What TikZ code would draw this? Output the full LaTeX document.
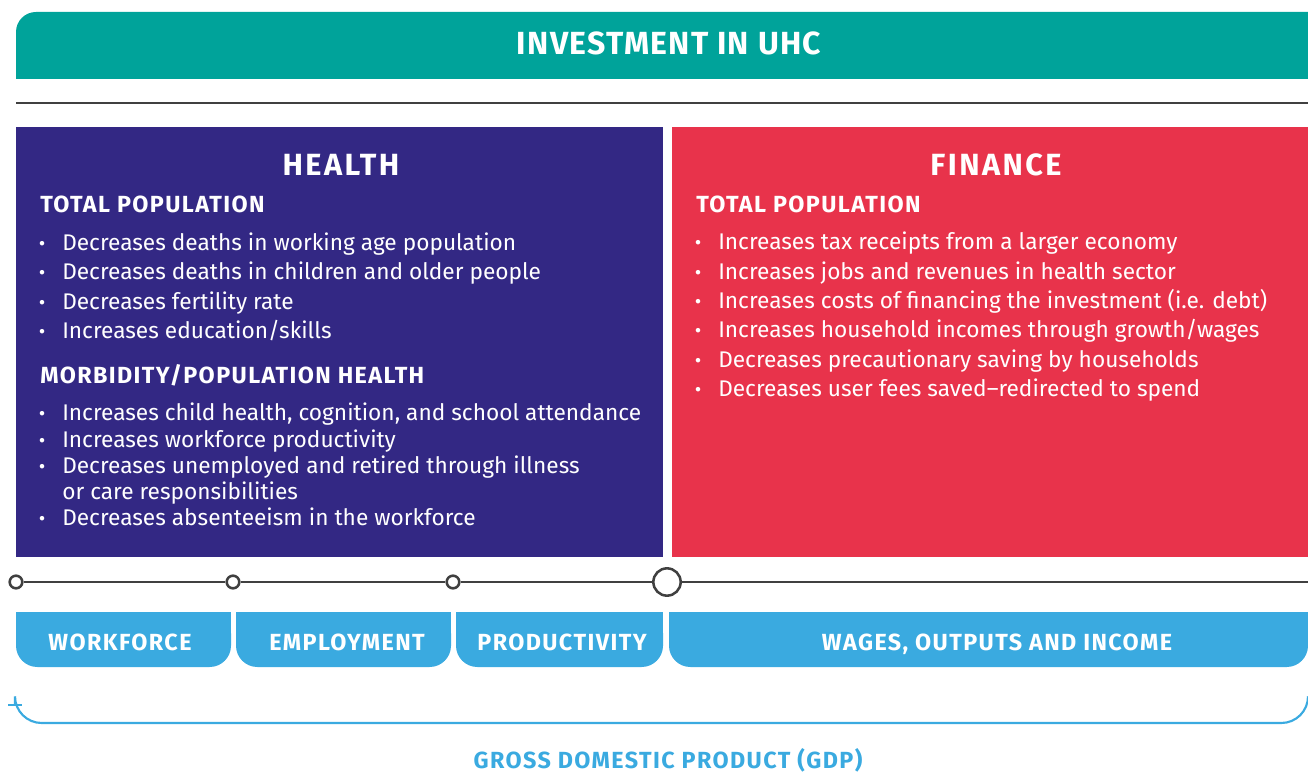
\documentclass[tikz,border=0pt]{standalone}
\usepackage{fontspec}
\setmainfont{Fira Sans}
\usetikzlibrary{positioning}

\definecolor{uhcteal}{HTML}{00A39A}
\definecolor{healthpurple}{HTML}{332884}
\definecolor{financered}{HTML}{E8334B}
\definecolor{gdpblue}{HTML}{3AAAE0}
\definecolor{linegray}{HTML}{404040}

\begin{document}
\begin{tikzpicture}[x=0.75pt,y=-0.75pt,
			title node/.style={font=\bfseries\fontsize{24}{28}\selectfont\addfontfeature{LetterSpace=4},text=white,anchor=base},
			head node/.style={font=\bfseries\fontsize{23}{27}\selectfont\addfontfeature{LetterSpace=8},text=white,anchor=base},
			sub node/.style={font=\bfseries\fontsize{17.5}{21}\selectfont\addfontfeature{LetterSpace=6},text=white,anchor=base west,inner sep=0pt},
			item node/.style={font=\fontsize{17}{20}\selectfont,text=white,anchor=base west,inner sep=0pt},
			bullet node/.style={font=\fontsize{15}{18}\selectfont,text=white,anchor=base,inner sep=0pt},
			stepbox node/.style={font=\bfseries\fontsize{17.5}{21}\selectfont\addfontfeature{LetterSpace=6},text=white,anchor=base},
			small dot/.style={circle,draw=linegray,fill=white,line width=1.9pt,minimum size=9.5pt,inner sep=0pt},
			big dot/.style={circle,draw=linegray,fill=white,line width=1.9pt,minimum size=20.5pt,inner sep=0pt}
			]

			\useasboundingbox (0,0) rectangle (1308,773);
			\clip (0,0) rectangle (1308,773);

			% banner
			\fill[uhcteal,rounded corners=15] (16,12) rectangle (1340,79);
			\fill[uhcteal] (16,40) rectangle (1340,79);
			\fill[uhcteal] (60,12) rectangle (1340,79);
			\node[title node] (uhc) at (669,55) {INVESTMENT IN UHC};

			\draw[linegray,line width=2.2pt] (16,103) -- (1310,103);

			% panels
			\fill[healthpurple] (16,127) rectangle (663,557);
			\fill[financered] (672,127) rectangle (1310,557);
			\node[head node] (health) at (341,176) {HEALTH};
			\node[head node] (finance) at (996,176) {FINANCE};

			\node[sub node] (htot) at (40,213) {TOTAL POPULATION};
			\foreach \t [count=\i] in {
				{Decreases deaths in working age population},
				{Decreases deaths in children and older people},
				{Decreases fertility rate},
				{Increases education/skills}}
			{
				\node[bullet node] (hb\i) at (42,{250.5+29.4*(\i-1)}) {•};
				\node[item node] (ht\i) at (62,{250.5+29.4*(\i-1)}) {\t};
			}

			\node[sub node] (hmor) at (40,383) {MORBIDITY/POPULATION HEALTH};
			\foreach \t/\y [count=\i] in {
				{Increases child health, cognition, and school attendance}/420,
				{Increases workforce productivity}/447,
				{Decreases unemployed and retired through illness}/473.5,
				{Decreases absenteeism in the workforce}/525}
			{
				\node[bullet node] (mb\i) at (42,\y) {•};
				\node[item node] (mt\i) at (62,\y) {\t};
			}
			\node[item node] (mt5) at (62,499) {or care responsibilities};

			\node[sub node] (ftot) at (696,213) {TOTAL POPULATION};
			\foreach \t [count=\i] in {
				{Increases tax receipts from a larger economy},
				{Increases jobs and revenues in health sector},
				{Increases costs of financing the investment (i.e. debt)},
				{Increases household incomes through growth/wages},
				{Decreases precautionary saving by households},
				{Decreases user fees saved–redirected to spend}}
			{
				\node[bullet node] (fb\i) at (698,{250+29.3*(\i-1)}) {•};
				\node[item node] (ft\i) at (718,{250+29.3*(\i-1)}) {\t};
			}

			% timeline
			\node[small dot] (d1) at (16,582) {};
			\node[small dot] (d2) at (233,582) {};
			\node[small dot] (d3) at (453,582) {};
			\node[big dot] (d4) at (667,582) {};
			\coordinate (dend) at (1312,582);
			\draw[linegray,line width=1.9pt] (d1) -- (d2) (d2) -- (d3) (d3) -- (d4) (d4) -- (dend);

			% steps
			\foreach \a/\b in {16/231,236/451,456/663,669/1308}
			{
				\fill[gdpblue,rounded corners=16] (\a,612) rectangle (\b,667);
				\fill[gdpblue] (\a,612) rectangle (\b,640);
			}
			\node[stepbox node] (work) at (120,650) {WORKFORCE};
			\node[stepbox node] (empl) at (347,650) {EMPLOYMENT};
			\node[stepbox node] (prod) at (562,650) {PRODUCTIVITY};
			\node[stepbox node] (wage) at (997,650) {WAGES, OUTPUTS AND INCOME};

			% gdp bracket
			\coordinate (gl) at (15,705);
			\coordinate (gr) at (1308,700);
			\draw[gdpblue,line width=1.6pt] (8,705) -- (22,705);
			\draw[gdpblue,line width=1.6pt,rounded corners=20] (gl) |- (1308,723) -- (gr);
			\node[stepbox node,text=gdpblue] (gdp) at (668,768) {GROSS DOMESTIC PRODUCT (GDP)};
		\end{tikzpicture}
\end{document}
